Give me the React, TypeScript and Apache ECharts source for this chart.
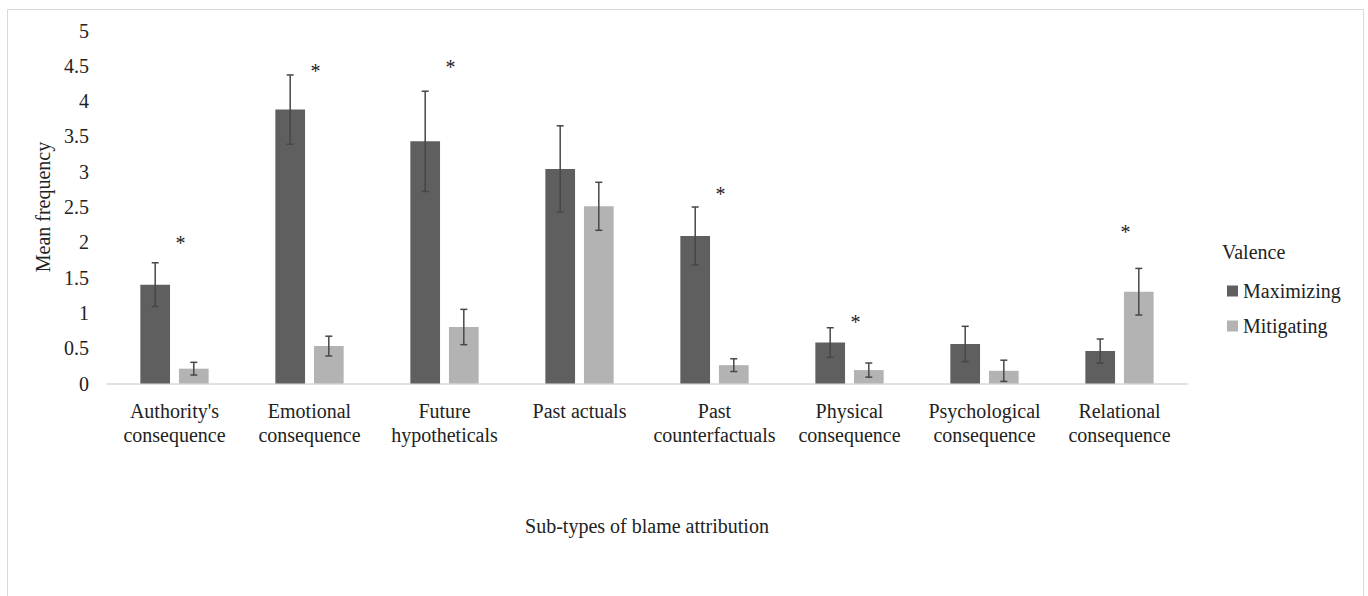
import React, { useEffect, useRef } from "react";
import * as echarts from "echarts";

const categories = [
  "Authority's\nconsequence",
  "Emotional\nconsequence",
  "Future\nhypotheticals",
  "Past actuals",
  "Past\ncounterfactuals",
  "Physical\nconsequence",
  "Psychological\nconsequence",
  "Relational\nconsequence",
];
const maximizing = [1.4, 3.88, 3.43, 3.04, 2.09, 0.58, 0.56, 0.46];
const maximizingErr = [0.31, 0.49, 0.71, 0.61, 0.41, 0.21, 0.25, 0.17];
const mitigating = [0.21, 0.53, 0.8, 2.51, 0.26, 0.19, 0.18, 1.3];
const mitigatingErr = [0.09, 0.14, 0.25, 0.34, 0.09, 0.1, 0.15, 0.33];
// height (in mean-frequency units) of the significance asterisk, null = none
const significance: (number | null)[] = [2.05, 4.48, 4.54, null, 2.74, 0.93, null, 2.2];
const yTicks = { min: 0, max: 5, interval: 0.5 };

const FONT = "Liberation Serif";
const DARK = "#5f5f5f";
const LIGHT = "#b3b3b3";
const ERR = "#474747";

export default function App() {
  const ref = useRef<HTMLDivElement>(null);
  useEffect(() => {
    document.body.style.margin = "0";
    if (!ref.current) return;
    const chart = echarts.init(ref.current, undefined, { renderer: "svg" });
    const BAR_W = 0.22;
    const GAP = 0.3;
    const errRender = (sign: number) => (params: any, api: any) => {
      const idx = api.value(0);
      const lo = api.coord([idx, api.value(1)]);
      const hi = api.coord([idx, api.value(2)]);
      const band = api.size([1, 0])[0];
      const x = lo[0] + sign * band * (BAR_W / 2 + (GAP * BAR_W) / 2);
      const cap = 3.5;
      const style = { stroke: ERR, lineWidth: 1.5 };
      return {
        type: "group",
        children: [
          { type: "line", shape: { x1: x, y1: hi[1], x2: x, y2: lo[1] }, style },
          { type: "line", shape: { x1: x - cap, y1: hi[1], x2: x + cap, y2: hi[1] }, style },
          { type: "line", shape: { x1: x - cap, y1: lo[1], x2: x + cap, y2: lo[1] }, style },
        ],
      };
    };
    const sigData = significance
      .map((v, i) => (v == null ? null : [i, v]))
      .filter((d) => d != null);
    chart.setOption({
      animation: false,
      textStyle: { fontFamily: FONT },
      graphic: [
        {
          type: "rect",
          shape: { x: 7.5, y: 9.5, width: 1356, height: 620 },
          style: { fill: "none", stroke: "#d9d9d9", lineWidth: 1 },
          silent: true,
        },
        {
          type: "text",
          left: 1222,
          top: 242,
          style: { text: "Valence", fontFamily: FONT, fontSize: 20, fill: "#222" },
        },
      ],
      legend: {
        data: ["Maximizing", "Mitigating"],
        orient: "vertical",
        left: 1222,
        top: 276,
        itemWidth: 11,
        itemHeight: 11,
        itemGap: 15,
        icon: "rect",
        textStyle: { fontFamily: FONT, fontSize: 20, color: "#222" },
      },
      grid: { left: 107, right: 181, top: 30.5, bottom: 212.5, containLabel: false },
      xAxis: {
        type: "category",
        data: categories,
        name: "Sub-types of blame attribution",
        nameLocation: "middle",
        nameGap: 132,
        nameTextStyle: { fontFamily: FONT, fontSize: 20, color: "#222" },
        axisLine: { lineStyle: { color: "#d9d9d9", width: 1.5 } },
        axisTick: { show: false },
        axisLabel: {
          interval: 0,
          margin: 15,
          fontFamily: FONT,
          fontSize: 20,
          lineHeight: 24,
          color: "#222",
          verticalAlign: "top",
        },
      },
      yAxis: {
        type: "value",
        min: yTicks.min,
        max: yTicks.max,
        interval: yTicks.interval,
        name: "Mean frequency",
        nameLocation: "middle",
        nameGap: 50,
        nameTextStyle: { fontFamily: FONT, fontSize: 20, color: "#222" },
        axisLine: { show: false },
        axisTick: { show: false },
        splitLine: { show: false },
        axisLabel: { fontFamily: FONT, fontSize: 20, color: "#222", margin: 18 },
      },
      series: [
        {
          name: "Maximizing",
          type: "bar",
          data: maximizing,
          barWidth: `${BAR_W * 100}%`,
          barGap: `${GAP * 100}%`,
          itemStyle: { color: DARK },
        },
        {
          name: "Mitigating",
          type: "bar",
          data: mitigating,
          barWidth: `${BAR_W * 100}%`,
          barGap: `${GAP * 100}%`,
          itemStyle: { color: LIGHT },
        },
        {
          name: "errMax",
          type: "custom",
          z: 5,
          renderItem: errRender(-1),
          encode: { x: 0, y: [1, 2] },
          data: maximizing.map((v, i) => [i, v - maximizingErr[i], v + maximizingErr[i]]),
        },
        {
          name: "errMit",
          type: "custom",
          z: 5,
          renderItem: errRender(1),
          encode: { x: 0, y: [1, 2] },
          data: mitigating.map((v, i) => [i, v - mitigatingErr[i], v + mitigatingErr[i]]),
        },
        {
          name: "sig",
          type: "custom",
          z: 6,
          encode: { x: 0, y: 1 },
          renderItem: (params: any, api: any) => {
            const p = api.coord([api.value(0), api.value(1)]);
            return {
              type: "text",
              x: p[0] + 6,
              y: p[1] + 4,
              style: {
                text: "*",
                fontFamily: FONT,
                fontSize: 20,
                fill: "#222",
                textAlign: "center",
                textVerticalAlign: "middle",
              },
            };
          },
          data: sigData,
        },
      ],
    });
    return () => chart.dispose();
  }, []);
  return <div ref={ref} style={{ width: 1368, height: 596 }} />;
}
